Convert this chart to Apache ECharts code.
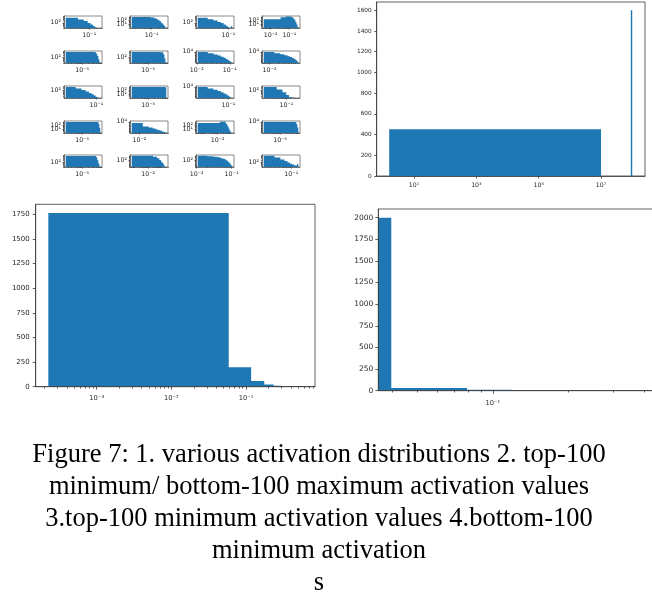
<!DOCTYPE html>
<html><head><meta charset="utf-8">
<script src="https://cdn.jsdelivr.net/npm/echarts@6/dist/echarts.min.js"></script>
<style>html,body{margin:0;padding:0;background:#fff}#c{width:652px;height:596px}</style>
</head><body><div id="c"></div>
<script>
// ================= DATA =================
// Panel 2 (top right): top-100 minimum / bottom-100 maximum activation values
const p2Edges = [1.6, 1e7, 2e7, 3e7, 4e7, 5e7, 6e7, 7e7, 8e7, 9e7, 1e8];
const p2Counts = [452, 0, 0, 0, 0, 0, 0, 0, 0, 1600];
const p2YTicks = [0, 200, 400, 600, 800, 1000, 1200, 1400, 1600];
const p2XTickExp = [1, 3, 5, 7];

// Panel 3 (bottom left): top-100 minimum activation values
const p3Edges = [0.000225, 0.0587, 0.1172, 0.1757, 0.2342, 0.2927, 0.3512, 0.4097, 0.4682, 0.5267, 0.585];
const p3Counts = [1765, 198, 58, 22, 9, 4, 2, 1, 1, 1];
const p3YTicks = [0, 250, 500, 750, 1000, 1250, 1500, 1750];
const p3XTickExp = [-3, -2, -1];

// Panel 4 (bottom right): bottom-100 minimum activation
const p4Edges = [0, 0.0395, 0.079, 0.1185, 0.158, 0.1975, 0.237, 0.2765, 0.316, 0.3555, 0.395];
const p4Counts = [2000, 30, 11, 3, 2, 1, 1, 0, 1, 1];
const p4YTicks = [0, 250, 500, 750, 1000, 1250, 1500, 1750, 2000];
const p4XTickExp = [-1];

// Panel 1 (top left): 20 small activation distributions (10 linear bins each, log-log)
const tinyLo = [0.013, 0.015, 0.012, 0.0043,
                1.5e-6, 1.5e-6, 0.0107, 0.0065,
                0.012, 1.5e-6, 0.012, 0.0125,
                1.5e-6, 0.0055, 2.6e-4, 1.5e-6,
                1.5e-6, 5.8e-4, 0.0107, 0.0125];
const tinyHi = [0.26, 0.4, 0.13, 0.30,
                8e-5, 8e-5, 0.119, 0.085,
                0.13, 8e-5, 0.13, 0.3,
                8e-5, 0.08, 0.15, 8e-5,
                8e-5, 0.23, 0.105, 0.17];
const tinyCounts = [
  [475, 280, 170, 95, 60, 38, 26, 18, 12, 6],
  [900, 850, 650, 350, 150, 60, 20, 8, 3, 1],
  [480, 300, 200, 130, 90, 60, 40, 25, 18, 35],
  [200, 700, 1100, 1150, 900, 400, 150, 40, 8, 2],
  [470, 470, 465, 460, 460, 450, 300, 150, 60, 25],
  [470, 470, 470, 465, 460, 455, 440, 250, 80, 25],
  [9000, 3000, 1200, 500, 200, 80, 30, 12, 5, 2],
  [9000, 3500, 1500, 700, 300, 150, 70, 30, 12, 4],
  [330, 200, 130, 80, 50, 32, 22, 15, 11, 8],
  [900, 905, 900, 895, 900, 900, 890, 900, 880, 600],
  [9000, 2500, 900, 350, 130, 50, 20, 8, 3, 1],
  [330, 150, 60, 25, 14, 12, 11, 10, 3, 2],
  [900, 900, 900, 900, 900, 900, 880, 800, 300, 20],
  [3900, 260, 98, 50, 23, 12, 7, 4, 3, 2],
  [450, 1000, 950, 300, 60, 15, 4, 2, 1, 1],
  [9000, 9000, 9000, 9000, 9000, 9000, 8800, 7000, 1500, 100],
  [670, 670, 665, 665, 660, 650, 450, 200, 80, 35],
  [1100, 700, 300, 110, 40, 18, 8, 4, 2, 1],
  [1100, 900, 700, 500, 300, 180, 90, 40, 15, 5],
  [730, 410, 230, 150, 98, 68, 51, 41, 38, 61]
];
const tinyYTickExp = [
  [2], [0, 1, 2, 3], [2], [0, 1, 2, 3],
  [2], [2], [2, 4], [2, 4],
  [2], [0, 1, 2, 3], [2, 4], [2],
  [0, 1, 2, 3], [2, 4], [0, 1, 2, 3], [2, 4],
  [2], [1, 2, 3], [1, 2, 3], [2]
];

const captionLines = [
  'Figure 7: 1. various activation distributions 2. top-100',
  'minimum/ bottom-100 maximum activation values',
  '3.top-100 minimum activation values 4.bottom-100',
  'minimum activation',
  's'
];

// ================= LAYOUT / STYLE =================
const BLUE = '#1f77b4';
const INK = '#3a3a3a';
const LBL = '#262626';
const FF = 'DejaVu Sans';
const tinyYRange = [
  [1.3, 2.9], [-0.05, 3.2], [1.3, 2.9], [-0.05, 3.2],
  [1.3, 2.8], [1.3, 2.8], [0.1, 4.3], [0.1, 4.3],
  [1.0, 2.65], [-0.05, 3.2], [0.1, 4.3], [1.0, 2.65],
  [-0.05, 3.2], [0.1, 4.3], [-0.05, 3.2], [0.1, 4.3],
  [1.45, 2.95], [0.3, 3.25], [0.3, 3.25], [1.4, 2.95]
];
const tinyColLeft = [64, 130, 196, 262];
const tinyRowTop = [16, 51, 86, 121, 155];

const SUP = {'-': '\u207B', '0': '\u2070', '1': '\u00B9', '2': '\u00B2', '3': '\u00B3',
  '4': '\u2074', '5': '\u2075', '6': '\u2076', '7': '\u2077', '8': '\u2078', '9': '\u2079'};
const pow10Label = v => '10' + String(Math.round(v)).split('').map(ch => SUP[ch]).join('');
const plainLabel = v => String(Math.round(v));

function minorLog(a, b) {
  const out = [];
  for (let k = Math.floor(a); k <= Math.ceil(b); k++)
    for (let m = 2; m <= 9; m++) { const v = k + Math.log10(m); if (v >= a && v <= b) out.push(v); }
  return out;
}
function majorLog(a, b) {
  const out = [];
  for (let k = Math.ceil(a); k <= Math.floor(b); k++) out.push(k);
  return out;
}

const grids = [], xAxes = [], yAxes = [], series = [];

function axisPair(list, gi, rng, majors, minors, fmt, fs, margin, tl, tlm, lw, pos) {
  const idx = list.length;
  list.push({
    type: 'value', gridIndex: gi, position: pos, min: rng[0], max: rng[1], z: 5,
    axisLine: {show: true, onZero: false, lineStyle: {color: INK, width: lw}},
    axisTick: {show: true, inside: false, customValues: majors, length: tl, lineStyle: {color: INK, width: lw}},
    axisLabel: {show: true, customValues: majors, formatter: fmt, fontSize: fs, color: LBL,
                margin: margin, fontFamily: FF},
    splitLine: {show: false}, splitArea: {show: false}
  });
  if (minors && minors.length) {
    list.push({
      type: 'value', gridIndex: gi, position: pos, min: rng[0], max: rng[1], z: 5,
      axisLine: {show: false, onZero: false},
      axisTick: {show: true, inside: false, customValues: minors, length: tlm, lineStyle: {color: INK, width: lw}},
      axisLabel: {show: false},
      splitLine: {show: false}, splitArea: {show: false}
    });
  }
  return idx;
}

function addHist(cfg) {
  const gi = grids.length;
  grids.push({left: cfg.box[0], top: cfg.box[1], width: cfg.box[2], height: cfg.box[3],
    show: true, borderColor: INK, borderWidth: cfg.lw, backgroundColor: 'transparent',
    containLabel: false, outerBoundsMode: 'none'});
  const xi = axisPair(xAxes, gi, cfg.xr, cfg.xMaj, cfg.xMin, pow10Label, cfg.xfs, cfg.xm, cfg.tl, cfg.tlm, cfg.lw, 'bottom');
  const yi = axisPair(yAxes, gi, cfg.yr, cfg.yMaj, cfg.yMin, cfg.yLog ? pow10Label : plainLabel, cfg.yfs, cfg.ym, cfg.tl, cfg.tlm, cfg.lw, 'left');
  const base = cfg.yr[0];
  const data = cfg.counts.map((c, i) => [
    Math.max(cfg.edges[i] > 0 ? Math.log10(cfg.edges[i]) : cfg.xr[0], cfg.xr[0]),
    Math.log10(cfg.edges[i + 1]),
    cfg.yLog ? (c > 0 ? Math.log10(c) : base) : c
  ]);
  const n = data.length;
  series.push({
    type: 'custom', xAxisIndex: xi, yAxisIndex: yi, z: 2, clip: true, silent: true,
    encode: {x: [0, 1], y: 2},
    renderItem: function (params, api) {
      // whole histogram as one step polygon (no seams between bins)
      if (params.dataIndexInside !== 0) return null;
      const pts = [api.coord([api.value(0, 0), base])];
      for (let k = 0; k < n; k++) {
        const x0 = api.value(0, k), x1 = api.value(1, k);
        const t = Math.max(api.value(2, k), base);
        pts.push(api.coord([x0, t]));
        pts.push(api.coord([x1, t]));
      }
      pts.push(api.coord([api.value(1, n - 1), base]));
      return {type: 'polygon', shape: {points: pts}, style: {fill: BLUE}};
    },
    data: data
  });
}

// ---- tiny panels
for (let i = 0; i < 20; i++) {
  const r = Math.floor(i / 4), c = i % 4;
  const lo = Math.log10(tinyLo[i]), hi = Math.log10(tinyHi[i]);
  const L = hi - lo;
  const xr = [lo - 0.05 * L, hi + 0.05 * L];
  const edges = [];
  for (let k = 0; k <= 10; k++) edges.push(tinyLo[i] + k * (tinyHi[i] - tinyLo[i]) / 10);
  const yr = tinyYRange[i];
  addHist({
    box: [tinyColLeft[c], tinyRowTop[r], 38, 12], lw: 0.6,
    xr: xr, xMaj: majorLog(xr[0], xr[1]), xMin: minorLog(xr[0], xr[1]),
    yr: yr, yMaj: tinyYTickExp[i], yMin: minorLog(yr[0], yr[1]), yLog: true,
    edges: edges, counts: tinyCounts[i],
    xfs: 6.3, yfs: 6.3, xm: 4.5, ym: 3, tl: 1.6, tlm: 0.9
  });
}

// ---- top right
addHist({
  box: [376.7, 2, 268.3, 174], lw: 0.8,
  xr: [-0.197, 8.41], xMaj: p2XTickExp, xMin: [],
  yr: [0, 1680], yMaj: p2YTicks, yMin: [], yLog: false,
  edges: p2Edges, counts: p2Counts,
  xfs: 6.2, yfs: 5.8, xm: 6, ym: 5, tl: 2.5, tlm: 1.5
});
// ---- bottom left
addHist({
  box: [35.7, 204.3, 279.3, 182.4], lw: 0.8,
  xr: [-3.817, -0.076], xMaj: p3XTickExp, xMin: minorLog(-3.817, -0.076),
  yr: [0, 1853], yMaj: p3YTicks, yMin: [], yLog: false,
  edges: p3Edges, counts: p3Counts,
  xfs: 6.7, yfs: 7, xm: 8, ym: 6, tl: 3, tlm: 1.8
});
// ---- bottom right
addHist({
  box: [378.3, 209, 276, 181.7], lw: 0.8,
  xr: [-1.455, -0.358], xMaj: p4XTickExp, xMin: minorLog(-1.455, -0.358),
  yr: [0, 2100], yMaj: p4YTicks, yMin: [], yLog: false,
  edges: p4Edges, counts: p4Counts,
  xfs: 6.7, yfs: 7.5, xm: 9, ym: 5, tl: 3, tlm: 1.8
});

const chart = echarts.init(document.getElementById('c'));
chart.setOption({
  animation: false,
  backgroundColor: '#fff',
  grid: grids, xAxis: xAxes, yAxis: yAxes, series: series,
  graphic: [{
    type: 'text', x: 319, y: 439, silent: true,
    style: {text: captionLines.join('\n'), fontFamily: 'Liberation Serif', fontSize: 26.5,
            lineHeight: 32, fill: '#000', align: 'center', verticalAlign: 'top', textAlign: 'center'}
  }]
});
</script></body></html>
